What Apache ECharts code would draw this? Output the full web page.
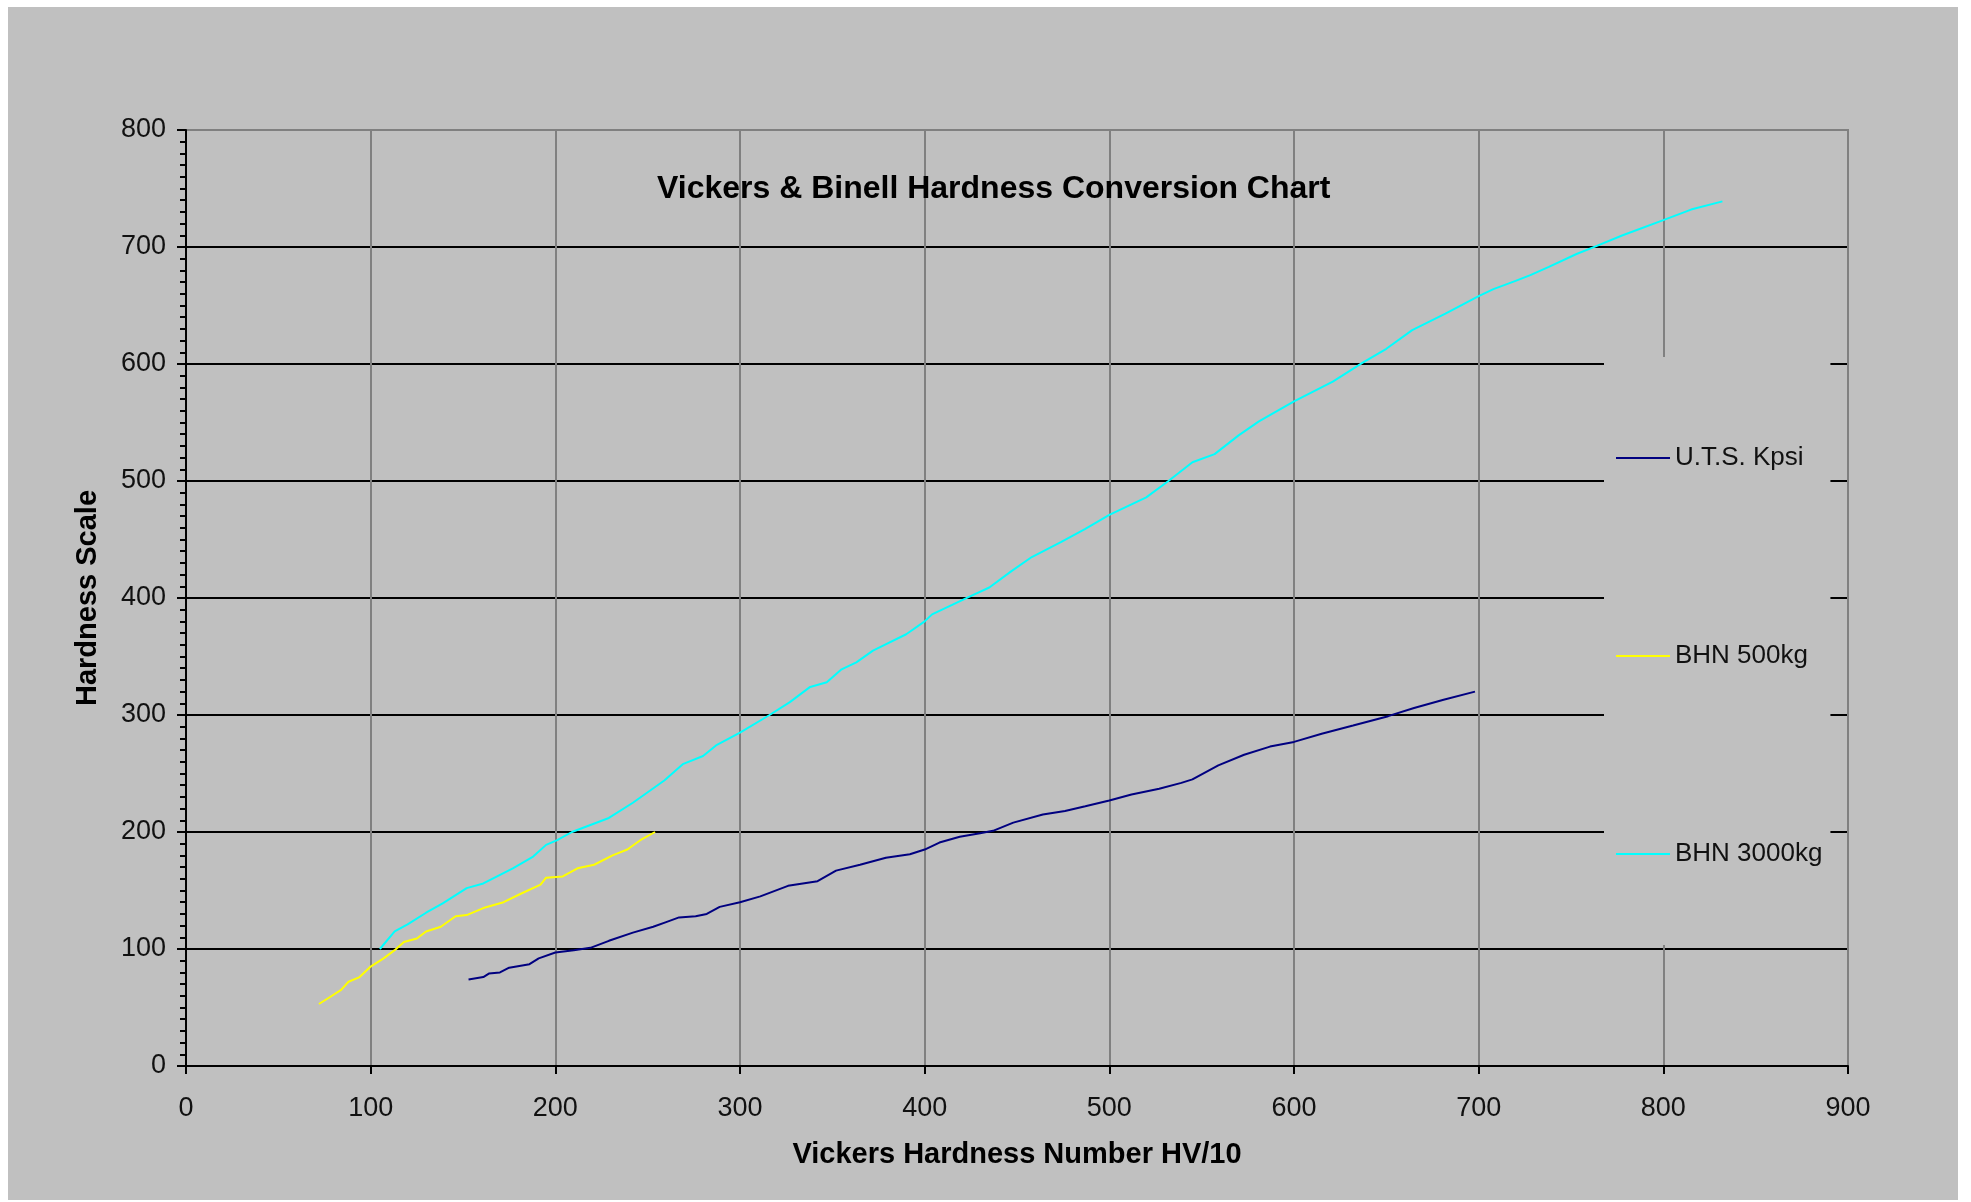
<!DOCTYPE html>
<html>
<head>
<meta charset="utf-8">
<script src="https://cdn.jsdelivr.net/npm/echarts@6/dist/echarts.min.js"></script>
<style>
  html, body { margin: 0; padding: 0; background: #ffffff; width: 1971px; height: 1202px; overflow: hidden; }
  #chart { position: absolute; left: 8px; top: 7px; width: 1950px; height: 1193px; background: #c0c0c0; }
</style>
</head>
<body>
<div id="chart"></div>
<script>
// ---- data ----
const seriesNames = ['U.T.S. Kpsi', 'BHN 500kg', 'BHN 3000kg'];

const utsHV   = [153,161,164,170,175,186,191,200,210,219,229,242,253,260,267,276,282,289,300,311,326,342,352,365,379,392,400,408,419,430,437,448,464,476,487,500,512,527,539,545,559,573,587,600,615,632,651,665,681,698];
const utsKpsi = [74,76,79,80,84,87,92,97,99,101,107,114,119,123,127,128,130,136,140,145,154,158,167,172,178,181,185,191,196,199,201,208,215,218,222,227,232,237,242,245,257,266,273,277,284,291,299,306,313,320];

const bhn500HV = [72,78,84,88,94,100,107,113,118,125,130,138,146,152,161,172,181,192,195,204,212,221,231,239,246,254];
const bhn500   = [53,59,65,72,76,85,92,99,106,109,115,119,128,129,135,140,147,155,161,162,169,172,180,185,193,200];

const bhn3000HV = [105,113,120,130,139,152,161,177,188,195,201,209,229,242,259,269,280,287,300,316,327,338,347,355,363,372,390,400,404,424,435,447,458,474,487,500,512,520,532,545,557,570,581,600,621,637,650,664,682,700,708,720,728,738,753,764,778,800,815,832];
const bhn3000   = [100,115,121,131,139,152,156,169,179,189,193,200,212,225,244,258,265,274,285,300,311,324,328,339,345,355,369,380,386,401,409,423,435,448,459,471,480,486,500,516,523,539,551,568,585,601,613,629,643,658,664,671,676,683,694,701,710,723,732,739];

const xMin = 0, xMax = 900, xStep = 100;
const yMin = 0, yMax = 800, yStep = 100;

const titleText = 'Vickers & Binell Hardness Conversion Chart';
const xTitle = 'Vickers Hardness Number HV/10';
const yTitle = 'Hardness Scale';

// ---- build ----
const pairs = (xs, ys) => xs.map((x, i) => [x, ys[i]]);
const FONT = "'Liberation Sans', Arial, sans-serif";

const chart = echarts.init(document.getElementById('chart'), null, { renderer: 'canvas' });
chart.setOption({
  backgroundColor: 'transparent',
  animation: false,
  title: {
    text: titleText,
    left: 649,
    top: 166,
    padding: 0,
    textStyle: { fontFamily: FONT, fontSize: 32, fontWeight: 'bold', color: '#000' }
  },
  legend: {
    orient: 'vertical',
    left: 1596,
    top: 350,
    padding: [88, 8, 78, 12],
    backgroundColor: '#c0c0c0',
    itemGap: 172,
    itemWidth: 54,
    itemHeight: 2,
    icon: 'rect',
    data: seriesNames,
    textStyle: { fontFamily: FONT, fontSize: 26, color: '#111', lineHeight: 26 }
  },
  grid: {
    left: 178, top: 123, width: 1662, height: 936,
    containLabel: false,
    outerBoundsMode: 'none',
    show: true,
    backgroundColor: 'transparent',
    borderColor: '#808080',
    borderWidth: 2
  },
  xAxis: {
    type: 'value',
    min: xMin, max: xMax, interval: xStep,
    name: xTitle,
    nameLocation: 'middle',
    nameGap: 74,
    nameTextStyle: { fontFamily: FONT, fontSize: 29, fontWeight: 'bold', color: '#000' },
    axisLine: { show: true, onZero: false, lineStyle: { color: '#000', width: 2 } },
    axisTick: { show: true, inside: false, length: 8, lineStyle: { color: '#000', width: 2 } },
    minorTick: { show: false },
    axisLabel: { fontFamily: FONT, fontSize: 27, color: '#111', margin: 29 },
    splitLine: { show: true, showMinLine: false, lineStyle: { color: '#808080', width: 2 } }
  },
  yAxis: {
    type: 'value',
    min: yMin, max: yMax, interval: yStep,
    name: yTitle,
    nameLocation: 'middle',
    nameRotate: 90,
    nameGap: 84,
    nameTextStyle: { fontFamily: FONT, fontSize: 29, fontWeight: 'bold', color: '#000' },
    axisLine: { show: true, onZero: false, lineStyle: { color: '#000', width: 2 } },
    axisTick: { show: true, inside: false, length: 9, lineStyle: { color: '#000', width: 2 } },
    minorTick: { show: true, splitNumber: 10, length: 6, lineStyle: { color: '#000', width: 2 } },
    axisLabel: { fontFamily: FONT, fontSize: 27, color: '#111', margin: 20 },
    splitLine: { show: true, showMinLine: false, showMaxLine: false, lineStyle: { color: '#000', width: 2 } }
  },
  series: [
    { name: seriesNames[0], type: 'line', data: pairs(utsHV, utsKpsi), symbol: 'none', color: '#000080', lineStyle: { color: '#000080', width: 2 } },
    { name: seriesNames[1], type: 'line', data: pairs(bhn500HV, bhn500), symbol: 'none', color: '#ffff00', lineStyle: { color: '#ffff00', width: 2 } },
    { name: seriesNames[2], type: 'line', data: pairs(bhn3000HV, bhn3000), symbol: 'none', color: '#00ffff', lineStyle: { color: '#00ffff', width: 2 } }
  ]
});
</script>
</body>
</html>
